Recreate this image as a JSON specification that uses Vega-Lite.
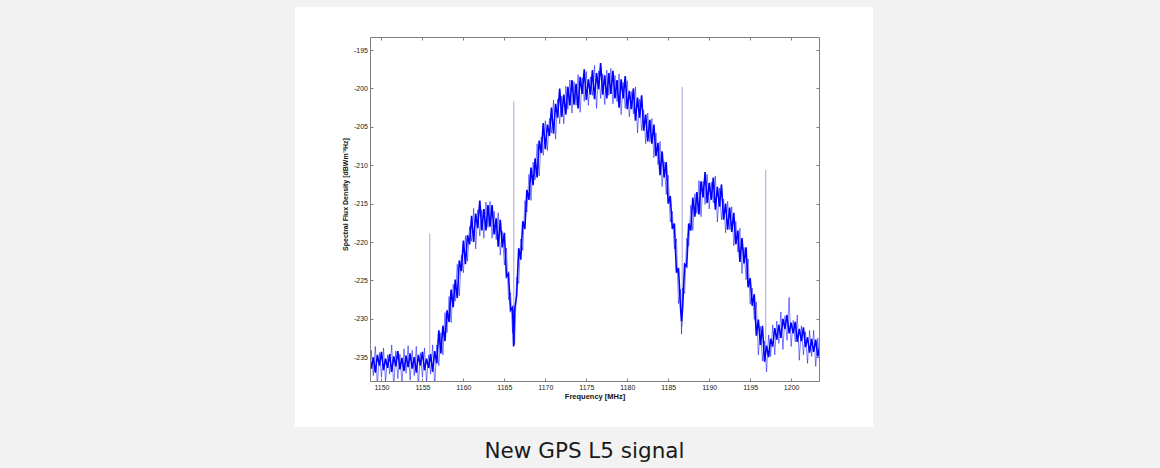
{
  "$schema": "https://vega.github.io/schema/vega-lite/v6.json",
  "width": 449,
  "height": 344,
  "autosize": {"type": "none"},
  "padding": {"left": 370, "top": 37, "right": 341, "bottom": 87},
  "background": "#f2f2f2",
  "config": {
    "view": {"stroke": null, "fill": null},
    "font": "Liberation Sans",
    "axis": {
      "zindex": 1,
      "domainColor": "#7f7f7f", "domainWidth": 1, "tickColor": "#7f7f7f", "tickWidth": 1,
      "tickSize": -3, "labelFont": "Liberation Sans", "labelFontSize": 7, "labelColor": "#222222",
      "grid": false, "titleFont": "Liberation Sans", "titleFontSize": 7.5, "titleFontWeight": "bold", "titleColor": "#111111"
    }
  },
  "title": {
    "text": "New GPS L5 signal", "orient": "bottom", "anchor": "middle", "frame": "group",
    "font": "DejaVu Sans", "fontSize": 21.5, "fontWeight": "normal", "color": "#1a1a1a",
    "offset": 14, "dx": -10
  },
  "datasets": {
    "sig": [
      {"f":1148.5,"a":-234.5,"b":-238.0},{"f":1148.75,"a":-236.5,"b":-234.1},{"f":1149.0,"a":-235.0,"b":-237.4},{"f":1149.25,"a":-237.0,"b":-233.6},
      {"f":1149.5,"a":-234.7,"b":-238.7},{"f":1149.75,"a":-236.1,"b":-234.4},{"f":1150.0,"a":-234.3,"b":-237.6},{"f":1150.25,"a":-236.7,"b":-233.8},
      {"f":1150.5,"a":-235.2,"b":-238.3},{"f":1150.75,"a":-236.4,"b":-234.7},{"f":1151.0,"a":-234.6,"b":-237.2},{"f":1151.25,"a":-236.9,"b":-233.4},
      {"f":1151.5,"a":-234.9,"b":-239.0},{"f":1151.75,"a":-236.2,"b":-234.2},{"f":1152.0,"a":-234.2,"b":-237.8},{"f":1152.25,"a":-236.6,"b":-234.6},
      {"f":1152.5,"a":-235.1,"b":-238.5},{"f":1152.75,"a":-236.8,"b":-233.9},{"f":1153.0,"a":-234.8,"b":-237.1},{"f":1153.25,"a":-236.3,"b":-233.5},
      {"f":1153.5,"a":-234.5,"b":-238.0},{"f":1153.75,"a":-236.5,"b":-234.1},{"f":1154.0,"a":-235.0,"b":-237.4},{"f":1154.25,"a":-237.0,"b":-233.6},
      {"f":1154.5,"a":-234.7,"b":-238.7},{"f":1154.75,"a":-236.1,"b":-234.4},{"f":1155.0,"a":-234.3,"b":-237.6},{"f":1155.25,"a":-236.7,"b":-233.8},
      {"f":1155.5,"a":-235.2,"b":-238.3},{"f":1155.75,"a":-236.4,"b":-234.7},{"f":1156.0,"a":-234.6,"b":-237.2},{"f":1156.25,"a":-236.9,"b":-233.4},
      {"f":1156.5,"a":-234.2,"b":-238.8},{"f":1156.75,"a":-235.8,"b":-233.4},{"f":1157.0,"a":-231.5,"b":-236.1},{"f":1157.25,"a":-234.5,"b":-231.8},
      {"f":1157.5,"a":-230.9,"b":-234.7},{"f":1157.75,"a":-232.9,"b":-229.2},{"f":1158.0,"a":-228.9,"b":-231.8},{"f":1158.25,"a":-230.4,"b":-227.1},
      {"f":1158.5,"a":-226.2,"b":-230.5},{"f":1158.75,"a":-228.5,"b":-225.5},{"f":1159.0,"a":-224.9,"b":-227.7},{"f":1159.25,"a":-227.3,"b":-222.9},
      {"f":1159.5,"a":-222.4,"b":-227.0},{"f":1159.75,"a":-223.8,"b":-221.7},{"f":1160.0,"a":-219.8,"b":-224.0},{"f":1160.25,"a":-222.9,"b":-219.2},
      {"f":1160.5,"a":-219.1,"b":-222.5},{"f":1160.75,"a":-220.3,"b":-218.0},{"f":1161.0,"a":-216.6,"b":-219.9},{"f":1161.25,"a":-220.0,"b":-215.6},
      {"f":1161.5,"a":-216.3,"b":-220.9},{"f":1161.75,"a":-218.2,"b":-215.8},{"f":1162.0,"a":-214.6,"b":-219.2},{"f":1162.25,"a":-218.5,"b":-215.8},
      {"f":1162.5,"a":-215.7,"b":-219.5},{"f":1162.75,"a":-218.5,"b":-214.8},{"f":1163.0,"a":-215.2,"b":-218.1},{"f":1163.25,"a":-218.0,"b":-214.7},
      {"f":1163.5,"a":-215.2,"b":-219.5},{"f":1163.75,"a":-219.0,"b":-216.0},{"f":1164.0,"a":-216.9,"b":-219.7},{"f":1164.25,"a":-220.6,"b":-216.2},
      {"f":1164.5,"a":-217.1,"b":-221.7},{"f":1164.75,"a":-220.7,"b":-218.6},{"f":1165.0,"a":-218.8,"b":-223.0},{"f":1165.25,"a":-224.5,"b":-220.8},
      {"f":1165.5,"a":-224.1,"b":-227.5},{"f":1165.75,"a":-228.9,"b":-226.6},{"f":1166.0,"a":-228.5,"b":-231.8},{"f":1166.125,"a":-233.6,"b":-230.1},
      {"f":1166.25,"a":-228.8,"b":-233.4},{"f":1166.5,"a":-227.0,"b":-224.6},{"f":1166.75,"a":-220.8,"b":-225.4},{"f":1167.0,"a":-222.3,"b":-219.6},
      {"f":1167.25,"a":-217.3,"b":-221.1},{"f":1167.5,"a":-218.3,"b":-214.6},{"f":1167.75,"a":-213.2,"b":-216.1},{"f":1168.0,"a":-214.5,"b":-211.2},
      {"f":1168.25,"a":-210.3,"b":-214.6},{"f":1168.5,"a":-212.6,"b":-209.6},{"f":1168.75,"a":-209.1,"b":-211.9},{"f":1169.0,"a":-211.6,"b":-207.2},
      {"f":1169.25,"a":-206.8,"b":-211.4},{"f":1169.5,"a":-208.4,"b":-206.3},{"f":1169.75,"a":-204.5,"b":-208.7},{"f":1170.0,"a":-207.9,"b":-204.2},
      {"f":1170.25,"a":-204.7,"b":-208.1},{"f":1170.5,"a":-206.2,"b":-203.9},{"f":1170.75,"a":-202.5,"b":-205.8},{"f":1171.0,"a":-205.9,"b":-201.5},
      {"f":1171.25,"a":-202.0,"b":-206.6},{"f":1171.5,"a":-203.8,"b":-201.4},{"f":1171.75,"a":-200.0,"b":-204.6},{"f":1172.0,"a":-203.7,"b":-201.0},
      {"f":1172.25,"a":-200.8,"b":-204.6},{"f":1172.5,"a":-203.4,"b":-199.7},{"f":1172.75,"a":-199.8,"b":-202.7},{"f":1173.0,"a":-202.2,"b":-198.9},
      {"f":1173.25,"a":-198.9,"b":-203.2},{"f":1173.5,"a":-202.1,"b":-199.1},{"f":1173.75,"a":-199.4,"b":-202.2},{"f":1174.0,"a":-202.6,"b":-198.2},
      {"f":1174.25,"a":-198.5,"b":-203.1},{"f":1174.5,"a":-200.7,"b":-198.6},{"f":1174.75,"a":-197.5,"b":-201.7},{"f":1175.0,"a":-201.5,"b":-197.8},
      {"f":1175.25,"a":-198.8,"b":-202.2},{"f":1175.5,"a":-200.8,"b":-198.5},{"f":1175.75,"a":-197.6,"b":-200.9},{"f":1176.0,"a":-201.4,"b":-197.0},
      {"f":1176.25,"a":-198.0,"b":-202.6},{"f":1176.5,"a":-200.1,"b":-197.7},{"f":1176.75,"a":-196.7,"b":-201.3},{"f":1177.0,"a":-200.8,"b":-198.1},
      {"f":1177.25,"a":-198.3,"b":-202.1},{"f":1177.5,"a":-201.3,"b":-197.6},{"f":1177.75,"a":-198.0,"b":-200.9},{"f":1178.0,"a":-200.7,"b":-197.4},
      {"f":1178.25,"a":-197.7,"b":-202.0},{"f":1178.5,"a":-201.3,"b":-198.3},{"f":1178.75,"a":-198.9,"b":-201.7},{"f":1179.0,"a":-202.5,"b":-198.1},
      {"f":1179.25,"a":-198.8,"b":-203.4},{"f":1179.5,"a":-201.3,"b":-199.2},{"f":1179.75,"a":-198.4,"b":-202.6},{"f":1180.0,"a":-202.7,"b":-199.0},
      {"f":1180.25,"a":-200.3,"b":-203.7},{"f":1180.5,"a":-202.7,"b":-200.4},{"f":1180.75,"a":-200.0,"b":-203.3},{"f":1181.0,"a":-204.2,"b":-199.8},
      {"f":1181.25,"a":-201.2,"b":-205.8},{"f":1181.5,"a":-203.8,"b":-201.4},{"f":1181.75,"a":-200.9,"b":-205.5},{"f":1182.0,"a":-205.5,"b":-202.8},
      {"f":1182.25,"a":-203.4,"b":-207.2},{"f":1182.5,"a":-206.9,"b":-203.2},{"f":1182.75,"a":-204.1,"b":-207.0},{"f":1183.0,"a":-207.2,"b":-203.9},
      {"f":1183.25,"a":-204.7,"b":-209.0},{"f":1183.5,"a":-208.8,"b":-205.8},{"f":1183.75,"a":-207.1,"b":-209.9},{"f":1184.0,"a":-211.3,"b":-206.9},
      {"f":1184.25,"a":-208.2,"b":-212.8},{"f":1184.5,"a":-211.6,"b":-209.5},{"f":1184.75,"a":-209.6,"b":-213.8},{"f":1185.0,"a":-215.0,"b":-211.3},
      {"f":1185.25,"a":-214.0,"b":-217.4},{"f":1185.5,"a":-218.3,"b":-216.0},{"f":1185.75,"a":-217.6,"b":-220.9},{"f":1186.0,"a":-224.0,"b":-219.6},
      {"f":1186.25,"a":-223.4,"b":-228.0},{"f":1186.5,"a":-228.6,"b":-226.2},{"f":1186.625,"a":-230.3,"b":-232.0},{"f":1186.75,"a":-228.7,"b":-226.0},
      {"f":1187.0,"a":-222.9,"b":-226.7},{"f":1187.25,"a":-223.2,"b":-219.5},{"f":1187.5,"a":-217.6,"b":-220.5},{"f":1187.75,"a":-218.5,"b":-215.2},
      {"f":1188.0,"a":-214.2,"b":-218.5},{"f":1188.25,"a":-216.7,"b":-213.7},{"f":1188.5,"a":-213.5,"b":-216.3},{"f":1188.75,"a":-216.4,"b":-212.0},
      {"f":1189.0,"a":-212.1,"b":-216.7},{"f":1189.25,"a":-214.2,"b":-212.1},{"f":1189.5,"a":-210.9,"b":-215.1},{"f":1189.75,"a":-214.9,"b":-211.2},
      {"f":1190.0,"a":-212.3,"b":-215.7},{"f":1190.25,"a":-214.5,"b":-212.2},{"f":1190.5,"a":-211.6,"b":-214.9},{"f":1190.75,"a":-215.8,"b":-211.4},
      {"f":1191.0,"a":-212.8,"b":-217.4},{"f":1191.25,"a":-215.4,"b":-213.0},{"f":1191.5,"a":-212.5,"b":-217.1},{"f":1191.75,"a":-217.1,"b":-214.4},
      {"f":1192.0,"a":-215.0,"b":-218.8},{"f":1192.25,"a":-218.4,"b":-214.7},{"f":1192.5,"a":-215.5,"b":-218.4},{"f":1192.75,"a":-218.7,"b":-215.4},
      {"f":1193.0,"a":-216.2,"b":-220.5},{"f":1193.25,"a":-220.3,"b":-217.3},{"f":1193.5,"a":-218.5,"b":-221.3},{"f":1193.75,"a":-222.6,"b":-218.2},
      {"f":1194.0,"a":-219.5,"b":-224.1},{"f":1194.25,"a":-222.8,"b":-220.7},{"f":1194.5,"a":-220.7,"b":-224.9},{"f":1194.75,"a":-225.9,"b":-222.2},
      {"f":1195.0,"a":-224.7,"b":-228.1},{"f":1195.25,"a":-228.3,"b":-226.0},{"f":1195.5,"a":-226.8,"b":-230.1},{"f":1195.75,"a":-232.2,"b":-227.8},
      {"f":1196.0,"a":-230.1,"b":-234.7},{"f":1196.25,"a":-233.4,"b":-231.0},{"f":1196.5,"a":-230.9,"b":-235.5},{"f":1196.75,"a":-235.6,"b":-232.9},
      {"f":1197.0,"a":-233.5,"b":-236.9},{"f":1197.25,"a":-235.0,"b":-232.1},{"f":1197.5,"a":-232.6,"b":-234.9},{"f":1197.75,"a":-233.6,"b":-230.8},
      {"f":1198.0,"a":-231.2,"b":-234.7},{"f":1198.25,"a":-232.7,"b":-230.3},{"f":1198.5,"a":-230.8,"b":-233.2},{"f":1198.75,"a":-232.5,"b":-229.1},
      {"f":1199.0,"a":-230.0,"b":-234.0},{"f":1199.25,"a":-231.3,"b":-229.6},{"f":1199.5,"a":-229.5,"b":-232.8},{"f":1199.75,"a":-231.9,"b":-227.2},
      {"f":1200.0,"a":-230.5,"b":-233.6},{"f":1200.25,"a":-231.9,"b":-230.2},{"f":1200.5,"a":-230.4,"b":-233.0},{"f":1200.75,"a":-233.0,"b":-229.5},
      {"f":1201.0,"a":-231.3,"b":-235.4},{"f":1201.25,"a":-232.9,"b":-230.9},{"f":1201.5,"a":-231.1,"b":-234.7},{"f":1201.75,"a":-233.7,"b":-231.7},
      {"f":1202.0,"a":-232.4,"b":-235.8},{"f":1202.25,"a":-234.4,"b":-231.5},{"f":1202.5,"a":-232.6,"b":-234.9},{"f":1202.75,"a":-234.3,"b":-231.5},
      {"f":1203.0,"a":-232.7,"b":-236.2},{"f":1203.25,"a":-234.9,"b":-232.5},{"f":1203.5,"a":-233.6,"b":-236.0}
    ],
    "spikes": [
      {"f":1155.9,"lo":-236.5,"hi":-218.9},
      {"f":1166.15,"lo":-233.0,"hi":-201.7},
      {"f":1186.7,"lo":-231.0,"hi":-199.8},
      {"f":1196.9,"lo":-235.5,"hi":-210.6}
    ]
  },
  "resolve": {"axis": {"x": "independent", "y": "independent"}},
  "layer": [
    {
      "data": {"values": [{}]},
      "mark": {"type": "rect", "color": "#ffffff", "clip": false},
      "encoding": {
        "x": {"datum": 1139.43, "type": "quantitative", "axis": null, "scale": {"domain": [1148.6, 1203.4], "nice": false, "zero": false}},
        "x2": {"datum": 1210.0},
        "y": {"datum": -189.4, "type": "quantitative", "axis": null, "scale": {"domain": [-238.1, -193.3], "nice": false, "zero": false}},
        "y2": {"datum": -244.1}
      }
    },
    {
      "data": {"name": "spikes"},
      "mark": {"type": "rule", "color": "#9c9cd4", "strokeWidth": 0.9, "clip": true},
      "encoding": {
        "x": {"field": "f", "type": "quantitative", "scale": {"domain": [1148.6, 1203.4], "nice": false, "zero": false},
          "axis": {"zindex": 2, "orient": "top", "values": [1150,1155,1160,1165,1170,1175,1180,1185,1190,1195,1200], "labels": false, "title": null}},
        "y": {"field": "lo", "type": "quantitative", "scale": {"domain": [-238.1, -193.3], "nice": false, "zero": false},
          "axis": {"zindex": 2, "orient": "right", "values": [-235,-230,-225,-220,-215,-210,-205,-200,-195], "labels": false, "title": null}},
        "y2": {"field": "hi"}
      }
    },
    {
      "data": {"name": "sig"},
      "mark": {"type": "line", "color": "#0000ff", "strokeWidth": 1, "opacity": 0.5, "clip": true},
      "encoding": {
        "x": {"field": "f", "type": "quantitative",
          "axis": {"zindex": 2, "orient": "bottom", "values": [1150,1155,1160,1165,1170,1175,1180,1185,1190,1195,1200], "labelExpr": "toString(datum.value)", "labelPadding": 5, "title": "Frequency [MHz]", "titlePadding": 2}},
        "y": {"field": "b", "type": "quantitative",
          "axis": {"zindex": 2, "orient": "left", "values": [-235,-230,-225,-220,-215,-210,-205,-200,-195], "labelExpr": "toString(datum.value)", "labelPadding": 5.5, "title": "Spectral Flux Density [dBWm⁻²Hz]", "titleX": -25, "titleY": 157, "titleAlign": "center", "titleBaseline": "middle", "titleFontSize": 7}}
      }
    },
    {
      "data": {"name": "sig"},
      "mark": {"type": "line", "color": "#0000ff", "strokeWidth": 1.6, "clip": true},
      "encoding": {
        "x": {"field": "f", "type": "quantitative", "axis": null},
        "y": {"field": "a", "type": "quantitative", "axis": null}
      }
    }
  ]
}
